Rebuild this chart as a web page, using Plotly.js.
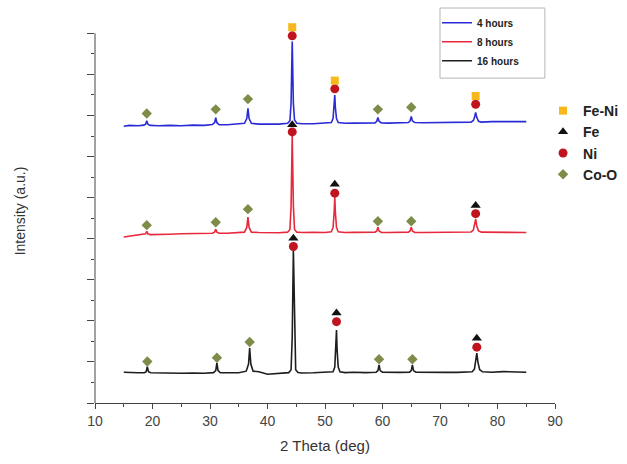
<!DOCTYPE html>
<html>
<head>
<meta charset="utf-8">
<script src="https://cdn.plot.ly/plotly-3.0.1.min.js"></script>
<style>html,body{margin:0;padding:0;background:#fff;}#chart{width:627px;height:464px;}</style>
</head>
<body>
<div id="chart"></div>
<script>
// ---- Data ----
// 4 hours (blue)
const x4h = [15, 16, 17.5, 18.5, 18.8, 19.0, 19.2, 19.6, 21, 23, 25, 27, 29, 30.4, 30.8, 31.0, 31.2, 31.6, 33, 35, 36.0, 36.4, 36.6, 36.8, 37.2, 38.5, 40, 42, 43.5, 43.9, 44.1, 44.3, 44.5, 44.7, 45.1, 46, 48, 50, 51.1, 51.4, 51.6, 51.7, 51.8, 52.0, 52.3, 53.5, 55, 57, 58.7, 59.0, 59.2, 59.4, 59.8, 61, 63, 64.5, 64.8, 65.0, 65.2, 65.6, 67, 69, 71, 73, 75.4, 75.8, 76.0, 76.2, 76.4, 76.7, 77.2, 79, 81, 83, 85];
const y4h = [13.48, 13.52, 13.50, 13.53, 13.58, 13.75, 13.58, 13.52, 13.50, 13.52, 13.50, 13.53, 13.52, 13.56, 13.65, 13.90, 13.65, 13.55, 13.55, 13.58, 13.62, 13.85, 14.35, 13.85, 13.62, 13.58, 13.57, 13.58, 13.62, 13.75, 14.6, 17.6, 14.6, 13.78, 13.62, 13.60, 13.60, 13.62, 13.66, 13.85, 14.4, 15.0, 14.4, 13.85, 13.66, 13.62, 13.63, 13.62, 13.64, 13.72, 13.90, 13.72, 13.64, 13.63, 13.64, 13.66, 13.74, 13.95, 13.74, 13.66, 13.65, 13.66, 13.64, 13.66, 13.68, 13.76, 13.9, 14.15, 13.9, 13.72, 13.68, 13.70, 13.69, 13.71, 13.70];

// 8 hours (red)
const x8h = [15, 16, 17.5, 18.5, 18.8, 19.0, 19.2, 19.6, 21, 23, 25, 27, 29, 30.4, 30.8, 31.0, 31.2, 31.6, 33, 35, 36.0, 36.4, 36.6, 36.8, 37.2, 38.5, 40, 42, 43.5, 43.9, 44.1, 44.3, 44.5, 44.7, 45.1, 46, 48, 50, 51.1, 51.4, 51.6, 51.7, 51.8, 52.0, 52.3, 53.5, 55, 57, 58.7, 59.0, 59.2, 59.4, 59.8, 61, 63, 64.5, 64.8, 65.0, 65.2, 65.6, 67, 69, 71, 73, 75.4, 75.8, 76.0, 76.2, 76.4, 76.7, 77.2, 79, 81, 83, 85];
const y8h = [8.08, 8.12, 8.16, 8.20, 8.24, 8.36, 8.24, 8.20, 8.22, 8.22, 8.24, 8.25, 8.25, 8.27, 8.32, 8.46, 8.32, 8.27, 8.27, 8.28, 8.32, 8.55, 9.05, 8.55, 8.32, 8.30, 8.28, 8.29, 8.32, 8.45, 9.6, 13.0, 9.6, 8.45, 8.32, 8.30, 8.31, 8.30, 8.34, 8.55, 9.3, 10.05, 9.3, 8.55, 8.34, 8.30, 8.31, 8.30, 8.32, 8.38, 8.56, 8.38, 8.31, 8.30, 8.31, 8.32, 8.38, 8.56, 8.38, 8.31, 8.30, 8.31, 8.30, 8.31, 8.33, 8.42, 8.62, 8.95, 8.62, 8.38, 8.32, 8.31, 8.30, 8.31, 8.30];

// 16 hours (black)
const x16h = [15, 16, 17.5, 18.6, 18.9, 19.1, 19.3, 19.7, 21, 23, 25, 27, 29, 30.6, 31.0, 31.2, 31.4, 31.8, 33, 35, 36.3, 36.7, 36.9, 37.1, 37.5, 38.5, 40, 42, 43.7, 44.1, 44.3, 44.5, 44.7, 44.9, 45.3, 46, 48, 50, 51.4, 51.7, 51.9, 52.0, 52.1, 52.3, 52.6, 53.5, 55, 57, 58.9, 59.2, 59.4, 59.6, 60.0, 61, 63, 64.7, 65.0, 65.2, 65.4, 65.8, 67, 69, 71, 73, 75.6, 76.0, 76.2, 76.4, 76.6, 76.9, 77.4, 79, 81, 83, 85];
const y16h = [1.50, 1.48, 1.47, 1.47, 1.52, 1.77, 1.52, 1.47, 1.46, 1.45, 1.45, 1.46, 1.45, 1.48, 1.58, 1.95, 1.58, 1.47, 1.46, 1.47, 1.55, 1.90, 2.68, 1.90, 1.55, 1.52, 1.40, 1.43, 1.48, 1.62, 3.2, 7.45, 3.2, 1.62, 1.48, 1.46, 1.47, 1.48, 1.52, 1.75, 2.6, 3.55, 2.6, 1.75, 1.52, 1.48, 1.50, 1.48, 1.50, 1.58, 1.85, 1.58, 1.50, 1.49, 1.49, 1.50, 1.58, 1.85, 1.58, 1.50, 1.49, 1.50, 1.49, 1.49, 1.52, 1.66, 1.98, 2.43, 1.98, 1.62, 1.52, 1.50, 1.53, 1.51, 1.50];

// Phase markers
const feNiX = [44.3, 51.7, 76.2];
const feNiY = [18.3, 15.7, 14.95];
const feX = [44.3, 51.7, 76.2, 44.5, 52.0, 76.4];
const feY = [13.55, 10.65, 9.62, 8.02, 4.38, 3.15];
const niX = [44.3, 51.7, 76.2, 44.3, 51.7, 76.2, 44.5, 52.0, 76.4];
const niY = [17.88, 15.3, 14.55, 13.2, 10.22, 9.22, 7.62, 3.96, 2.72];
const coOX = [19.0, 31.0, 36.6, 59.2, 65.0, 19.0, 31.0, 36.6, 59.2, 65.0, 19.1, 31.2, 36.9, 59.4, 65.2];
const coOY = [14.1, 14.3, 14.8, 14.3, 14.4, 8.66, 8.8, 9.44, 8.85, 8.85, 2.02, 2.2, 2.97, 2.13, 2.13];

const seriesNames = ['4 hours', '8 hours', '16 hours'];
const phaseNames = ['Fe-Ni', 'Fe', 'Ni', 'Co-O'];
const xTickVals = [10, 20, 30, 40, 50, 60, 70, 80, 90];
const xTickText = ['10', '20', '30', '40', '50', '60', '70', '80', '90'];
const yAxisTop = 18;

// ---- Styles ----
const FONT = 'Arial, "Liberation Sans", sans-serif';
function lineTrace(x, y, name, color, rank) {
  return {x: x, y: y, type: 'scatter', mode: 'lines', name: name,
    line: {color: color, width: 1.6, shape: 'linear'}, legend: 'legend', legendrank: rank,
    cliponaxis: false};
}
function markTrace(x, y, name, symbol, color, size, rank) {
  return {x: x, y: y, type: 'scatter', mode: 'markers', name: name,
    marker: {symbol: symbol, color: color, size: size, line: {width: 0}},
    legend: 'legend2', legendrank: rank, cliponaxis: false};
}

const traces = [
  lineTrace(x16h, y16h, seriesNames[2], '#1e1e1e', 3),
  lineTrace(x8h, y8h, seriesNames[1], '#e8283c', 2),
  lineTrace(x4h, y4h, seriesNames[0], '#2b2bd6', 1),
  markTrace(coOX, coOY, phaseNames[3], 'diamond', '#7d8c48', 8, 4),
  markTrace(niX, niY, phaseNames[2], 'circle', '#c0141f', 9, 3),
  markTrace(feX, feY, phaseNames[1], 'triangle-up', '#111111', 9, 2),
  markTrace(feNiX, feNiY, phaseNames[0], 'square', '#f6b81a', 8, 1)
];

const layout = {
  width: 627, height: 464,
  margin: {l: 95, r: 72, t: 19, b: 61, autoexpand: false},
  paper_bgcolor: '#ffffff', plot_bgcolor: '#ffffff',
  font: {family: FONT, color: '#333'},
  showlegend: true,
  xaxis: {
    range: [10, 90], tickmode: 'array', tickvals: xTickVals, ticktext: xTickText,
    showgrid: false, zeroline: false, showline: true, linecolor: '#444', linewidth: 1,
    ticks: 'outside', ticklen: 5, tickcolor: '#444', tickwidth: 1,
    minor: {dtick: 5, ticks: 'outside', ticklen: 3, tickcolor: '#444'},
    tickfont: {size: 14, color: '#444', family: FONT},
    title: {text: '2 Theta (deg)', font: {size: 15, color: '#333', family: FONT}, standoff: 12}
  },
  yaxis: {
    range: [0, 18.7], tickmode: 'array', tickvals: [0, 2, 4, 6, 8, 10, 12, 14, 16, 18], showticklabels: false,
    showgrid: false, zeroline: false, showline: false,
    ticks: 'outside', ticklen: 7, tickcolor: '#444', tickwidth: 1,
    minor: {tickvals: [1, 3, 5, 7, 9, 11, 13, 15, 17], ticks: 'outside', ticklen: 3, tickcolor: '#444'},
    title: {text: 'Intensity (a.u.)', font: {size: 14, color: '#333', family: FONT}, standoff: 58}
  },
  shapes: [
    {type: 'line', xref: 'paper', yref: 'y', x0: 0, x1: 0, y0: 0, y1: yAxisTop,
     line: {color: '#444', width: 1}},
    {type: 'rect', xref: 'paper', yref: 'paper', x0: 0.75, x1: 0.978, y0: 0.846, y1: 1.0286,
     line: {color: '#b5b5b5', width: 1}, fillcolor: 'rgba(0,0,0,0)'}
  ],
  legend: {
    x: 0.7435, xanchor: 'left', y: 1.028, yanchor: 'top',
    borderwidth: 0, bgcolor: 'rgba(255,255,255,0)',
    font: {size: 10, color: '#222', family: FONT, weight: 'bold'},
    itemwidth: 30, tracegroupgap: 0
  },
  legend2: {
    x: 0.974, xanchor: 'left', y: 0.802, yanchor: 'top',
    borderwidth: 0, bgcolor: 'rgba(255,255,255,0)',
    font: {size: 14, color: '#222', family: FONT, weight: 'bold'},
    itemwidth: 30
  }
};

Plotly.newPlot('chart', traces, layout, {displayModeBar: false, staticPlot: true});
</script>
</body>
</html>
